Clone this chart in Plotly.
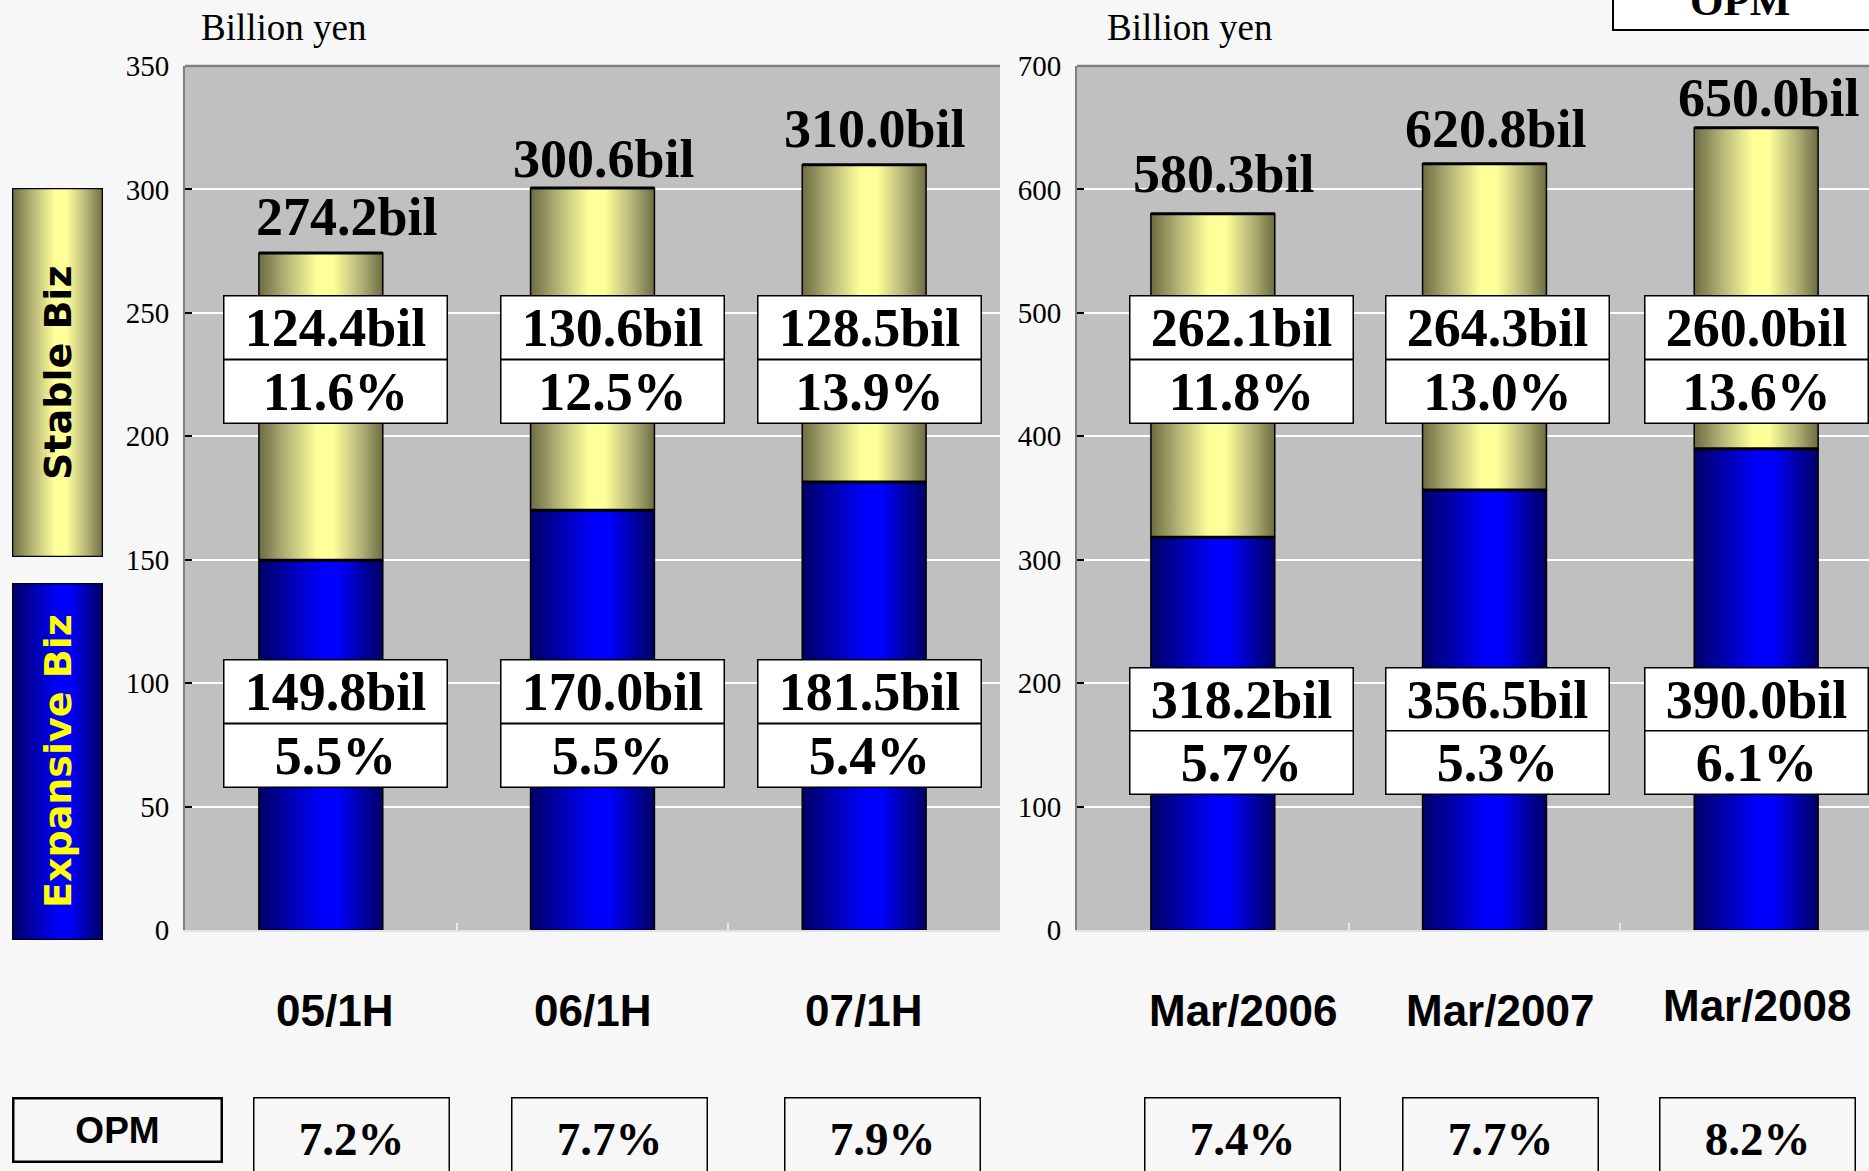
import plotly.graph_objects as go

W, H = 1869, 1171

# ---------------- data ----------------
half_periods = ["05/1H", "06/1H", "07/1H"]
half_expansive = [149.8, 170.0, 181.5]
half_stable = [124.4, 130.6, 128.5]
half_total = [274.2, 300.6, 310.0]
half_exp_opm = [5.5, 5.5, 5.4]
half_stable_opm = [11.6, 12.5, 13.9]
half_total_opm = [7.2, 7.7, 7.9]

year_periods = ["Mar/2006", "Mar/2007", "Mar/2008"]
year_expansive = [318.2, 356.5, 390.0]
year_stable = [262.1, 264.3, 260.0]
year_total = [580.3, 620.8, 650.0]
year_exp_opm = [5.7, 5.3, 6.1]
year_stable_opm = [11.8, 13.0, 13.6]
year_total_opm = [7.4, 7.7, 8.2]

left_ticks = [0, 50, 100, 150, 200, 250, 300, 350]
right_ticks = [0, 100, 200, 300, 400, 500, 600, 700]

# ---------------- styles ----------------
BW = 0.456
YELLOW = [[0, "#6c6c42"], [0.22, "#b4b478"], [0.47, "#ffff99"], [0.6, "#ffff99"],
          [0.82, "#b4b478"], [1, "#6c6c42"]]
BLUE = [[0, "#000066"], [0.25, "#0000b0"], [0.52, "#0000ff"], [0.63, "#0000ff"],
        [0.85, "#0000a0"], [1, "#000066"]]
SERIF = "Liberation Serif"
SANS = "Liberation Sans"
PAPER = "#f7f7f7"
PLOTBG = "#c0c0c0"


def px(x):
    return x / W


def py(y):
    return 1 - y / H


fig = go.Figure()


def add_segment(xa, ya, cx, base, top, scale):
    fig.add_trace(go.Scatter(
        x=[cx - BW / 2, cx + BW / 2, cx + BW / 2, cx - BW / 2, cx - BW / 2],
        y=[base, base, top, top, base],
        mode="lines", fill="toself",
        fillgradient=dict(type="horizontal", colorscale=scale),
        line=dict(color="black", width=1.5),
        xaxis=xa, yaxis=ya, hoverinfo="skip", showlegend=False))


def add_panel(xa, ya, expansive, stable):
    tops_x, tops_y = [], []
    for i, (e, s) in enumerate(zip(expansive, stable)):
        add_segment(xa, ya, i, 0, e, BLUE)
        add_segment(xa, ya, i, e, e + s, YELLOW)
        tops_x += [i - BW / 2, i + BW / 2, None, i - BW / 2, i + BW / 2, None]
        tops_y += [e, e, None, e + s, e + s, None]
    fig.add_trace(go.Scatter(x=tops_x, y=tops_y, mode="lines",
                             line=dict(color="black", width=3),
                             xaxis=xa, yaxis=ya, hoverinfo="skip", showlegend=False))


add_panel("x", "y", half_expansive, half_stable)
add_panel("x2", "y2", year_expansive, year_stable)

# legend boxes as small gradient panels
for xa, ya, scale in [("x3", "y3", YELLOW), ("x4", "y4", BLUE)]:
    fig.add_trace(go.Scatter(x=[0, 1, 1, 0, 0], y=[0, 0, 1, 1, 0], mode="lines",
                             fill="toself",
                             fillgradient=dict(type="horizontal", colorscale=scale),
                             line=dict(color="black", width=2.5),
                             xaxis=xa, yaxis=ya, hoverinfo="skip", showlegend=False))

annotations = []

# total labels above bars
tot_xshift = [[26, 11, 11], [11, 11, 13]]
tot_yshift = [[36, 29, 36], [40, 35, 30]]
for p, (xr, yr, totals) in enumerate([("x", "y", half_total), ("x2", "y2", year_total)]):
    for i, t in enumerate(totals):
        annotations.append(dict(
            x=i, y=t, xref=xr, yref=yr, text=f"<b>{t:.1f}bil</b>", showarrow=False,
            xanchor="center", yanchor="middle", xshift=tot_xshift[p][i],
            yshift=tot_yshift[p][i], font=dict(family=SERIF, size=54, color="black")))

# value/opm boxes on bars
box_xshift = [[15, 20, 5], [29, 13, 0]]
upper_rows = [[327.5, 391], [327.5, 391]]
lower_rows = [[691, 755], [699, 763]]
panels = [("x", half_stable, half_stable_opm, half_expansive, half_exp_opm),
          ("x2", year_stable, year_stable_opm, year_expansive, year_exp_opm)]
for p, (xr, st, st_opm, ex, ex_opm) in enumerate(panels):
    for i in range(3):
        rows = [(upper_rows[p][0], f"<b>{st[i]:.1f}bil</b>"),
                (upper_rows[p][1], f"<b>{st_opm[i]:.1f}%</b>"),
                (lower_rows[p][0], f"<b>{ex[i]:.1f}bil</b>"),
                (lower_rows[p][1], f"<b>{ex_opm[i]:.1f}%</b>")]
        for yc, txt in rows:
            annotations.append(dict(
                x=i, y=py(yc), xref=xr, yref="paper", text=txt, showarrow=False,
                xanchor="center", yanchor="middle", xshift=box_xshift[p][i],
                width=222, height=62, borderpad=0, bgcolor="white",
                bordercolor="black", borderwidth=1.5, valign="middle",
                font=dict(family=SERIF, size=54, color="black")))

# category labels
cat_xshift = [[14, 0, -1], [30, 15, 1]]
cat_ypx = [[1010, 1010, 1010], [1010, 1010, 1005]]
for p, (xr, cats) in enumerate([("x", half_periods), ("x2", year_periods)]):
    for i, c in enumerate(cats):
        annotations.append(dict(
            x=i, y=py(cat_ypx[p][i]), xref=xr, yref="paper", text=f"<b>{c}</b>",
            showarrow=False, xanchor="center", yanchor="middle",
            xshift=cat_xshift[p][i], font=dict(family=SANS, size=44, color="black")))

# bottom OPM row
annotations.append(dict(x=px(117), y=py(1129.5), xref="paper", yref="paper",
                        xanchor="center", yanchor="middle",
                        text="<b>OPM</b>", showarrow=False, width=206, height=61,
                        borderpad=0, bordercolor="black", borderwidth=2.5, bgcolor=PAPER,
                        font=dict(family=SANS, size=37, color="black")))
opm_centers = [351, 609.5, 882, 1242.5, 1500, 1757.5]
for cx, v in zip(opm_centers, half_total_opm + year_total_opm):
    annotations.append(dict(x=px(cx), y=py(1138), xref="paper", yref="paper",
                            xanchor="center", yanchor="middle",
                            text=f"<b>{v:.1f}%</b>", showarrow=False, width=194,
                            height=80, borderpad=0, bordercolor="black",
                            borderwidth=1.5, bgcolor=PAPER, valign="middle",
                            font=dict(family=SERIF, size=47, color="black")))

# units
for xs in [199, 1105]:
    annotations.append(dict(x=px(xs), y=py(27), xref="paper", yref="paper",
                            text="Billion yen", showarrow=False, xanchor="left",
                            yanchor="middle",
                            font=dict(family=SERIF, size=37, color="black")))

# top right OPM (cut off at the top edge, as in the original)
annotations.append(dict(x=px(1740), y=py(1), xref="paper", yref="paper",
                        text="<b>OPM</b>", showarrow=False, xanchor="center",
                        yanchor="middle", font=dict(family=SERIF, size=43, color="black")))

# legend text
annotations.append(dict(x=0.5, y=0.5, xref="x3 domain", yref="y3 domain",
                        xanchor="center", yanchor="middle",
                        text="<b>Stable Biz</b>", textangle=-90, showarrow=False,
                        font=dict(family="DejaVu Sans", size=38, color="black")))
annotations.append(dict(x=0.5, y=0.5, xref="x4 domain", yref="y4 domain",
                        xanchor="center", yanchor="middle",
                        text="<b>Expansive Biz</b>", textangle=-90, showarrow=False,
                        font=dict(family="DejaVu Sans", size=38, color="#ffff00")))

shapes = [
    # top borders of plot areas
    dict(type="line", xref="x domain", yref="y domain", x0=0, x1=1, y0=1, y1=1,
         line=dict(color="#808080", width=2.5)),
    dict(type="line", xref="x2 domain", yref="y2 domain", x0=0, x1=1, y0=1, y1=1,
         line=dict(color="#808080", width=2.5)),
    # top right OPM box
    dict(type="rect", xref="paper", yref="paper", x0=px(1613), x1=px(1900),
         y0=py(30), y1=py(-40), line=dict(color="black", width=2), fillcolor="white",
         layer="below"),
]

yaxis_common = dict(showgrid=True, gridcolor="white", gridwidth=2, zeroline=False,
                    ticks="inside", ticklen=7, tickcolor="black", tickwidth=2,
                    showline=True, linecolor="#808080", linewidth=2,
                    tickfont=dict(family=SERIF, size=29, color="black"),
                    ticklabelstandoff=8, fixedrange=True, automargin=False)
xaxis_common = dict(showgrid=False, zeroline=False, showticklabels=False,
                    tickvals=[0.5, 1.5], ticks="inside", ticklen=7,
                    tickcolor="#e8e8e8", tickwidth=2, showline=True,
                    linecolor="#e4e4e4", linewidth=2, fixedrange=True,
                    automargin=False)
hidden = dict(visible=False, range=[0, 1], fixedrange=True, automargin=False)

ydom = [py(930), py(66)]
fig.update_layout(
    width=W, height=H, autosize=False,
    margin=dict(l=0, r=0, t=0, b=0, pad=0, autoexpand=False),
    paper_bgcolor=PAPER, plot_bgcolor=PLOTBG,
    showlegend=False,
    xaxis=dict(domain=[px(185), px(1000)], range=[-0.5, 2.5], anchor="y", **xaxis_common),
    yaxis=dict(domain=ydom, range=[0, 350], tickvals=left_ticks, anchor="x",
               **yaxis_common),
    xaxis2=dict(domain=[px(1077), 1], range=[-0.5, -0.5 + 792 / 271.67], anchor="y2",
                **xaxis_common),
    yaxis2=dict(domain=ydom, range=[0, 700], tickvals=right_ticks, anchor="x2",
                **yaxis_common),
    xaxis3=dict(domain=[px(12), px(103)], anchor="y3", **hidden),
    yaxis3=dict(domain=[py(557), py(188)], anchor="x3", **hidden),
    xaxis4=dict(domain=[px(12), px(103)], anchor="y4", **hidden),
    yaxis4=dict(domain=[py(940), py(583)], anchor="x4", **hidden),
    annotations=annotations,
    shapes=shapes,
)

fig.write_html(
    "out.html",
    config={"responsive": False, "displayModeBar": False},
    post_script="document.body.style.margin='0';document.body.style.overflow='hidden';",
)
